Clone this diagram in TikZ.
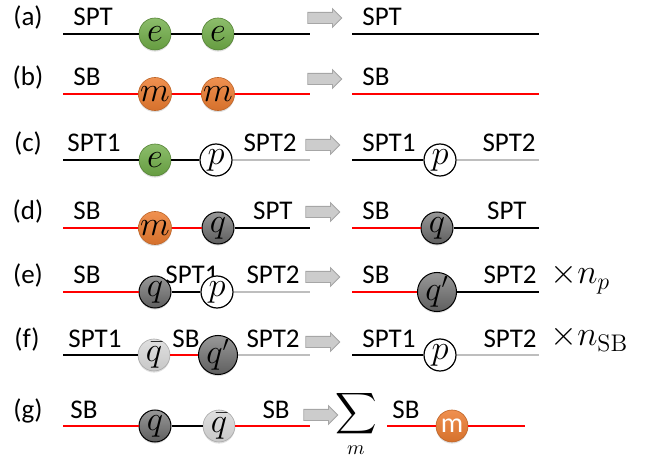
\documentclass[tikz,border=0pt]{standalone}
\usepackage{amsmath}
\usepackage[no-math]{fontspec}
\newfontfamily\calib{Carlito}
\usetikzlibrary{positioning,shapes.arrows,shadows}
\definecolor{ballgreen}{RGB}{112,173,71}
\definecolor{ballorange}{RGB}{237,125,49}
\definecolor{qdark}{RGB}{118,118,118}
\definecolor{qlight}{RGB}{210,210,210}
\definecolor{linegray}{RGB}{190,190,190}
\definecolor{linered}{RGB}{255,0,0}

\begin{document}
\begin{tikzpicture}[x=0.5pt,y=-0.5pt]
	\tikzset{lbl/.style={anchor=base west,inner sep=0pt,font=\calib\fontsize{13.5}{15}\selectfont},
		rlbl/.style={lbl,anchor=base east},
		rowlbl/.style={lbl,anchor=base},
		kline/.style={line width=1.1pt,black},
		rline/.style={line width=1.1pt,linered},
		gline/.style={line width=1.1pt,linegray},
		ball/.style={circle,minimum size=16pt,inner sep=0pt,font=\fontsize{16}{16}\selectfont,
			drop shadow={opacity=0.25,shadow xshift=0pt,shadow yshift=-0.8pt}},
		eball/.style={ball,top color=ballgreen!80!white,bottom color=ballgreen!90!black,draw=ballgreen!75!black,line width=0.3pt},
		mball/.style={ball,top color=ballorange!85!white,bottom color=ballorange!90!black,draw=ballorange!80!black,line width=0.3pt},
		qball/.style={ball,top color=qdark!75!white,bottom color=qdark!80!black,draw=black,line width=0.5pt},
		qbarball/.style={ball,top color=qlight!70!white,bottom color=qlight!95!black,draw=qlight!80!black,line width=0.3pt},
		pball/.style={circle,minimum size=16pt,inner sep=0pt,font=\fontsize{16}{16}\selectfont,fill=white,draw=black,line width=0.6pt},
		garrow/.style={single arrow,draw=black!35,fill=black!20,minimum height=17pt,minimum width=0pt,
			text height=2.6pt,text depth=2.6pt,text width=0pt,
			single arrow head extend=1.9pt,inner sep=0pt,line width=0.4pt},
		times/.style={anchor=base west,inner sep=0pt,font=\fontsize{17}{19}\selectfont},
	}
	\useasboundingbox (0,0) rectangle (660,460);
	% (a)
	\node [rowlbl] (a0) at (28,26) {(a)};
	\node [lbl] (at1) at (73,26) {SPT};
	\node [lbl] (at2) at (362,26) {SPT};
	\coordinate (aL) at (63,34);
	\coordinate (aR) at (310,34);
	\coordinate (aL2) at (352,34);
	\coordinate (aR2) at (539,34);
	\node [eball] (a1) at (155,34) {$e$};
	\node [eball] (a2) at (218,34) {$e$};
	\node [garrow] (aarr) at (322,18) {};
	\draw [kline] (aL) -- (a1) -- (a2) -- (aR);
	\draw [kline] (aL2) -- (aR2);
	% (b)
	\node [rowlbl] (b0) at (28,86) {(b)};
	\node [lbl] (bt1) at (73,86) {SB};
	\node [lbl] (bt2) at (362,86) {SB};
	\coordinate (bL) at (63,94);
	\coordinate (bR) at (310,94);
	\coordinate (bL2) at (352,94);
	\coordinate (bR2) at (539,94);
	\node [mball] (b1) at (155,94) {$m$};
	\node [mball] (b2) at (218,94) {$m$};
	\node [garrow] (barr) at (322,79) {};
	\draw [rline] (bL) -- (b1) -- (b2) -- (bR);
	\draw [rline] (bL2) -- (bR2);
	% (c)
	\node [rowlbl] (c0) at (28,152) {(c)};
	\node [lbl] (ct1) at (67,152) {SPT1};
	\node [rlbl] (ct2) at (297,152) {SPT2};
	\node [lbl] (ct3) at (362,152) {SPT1};
	\node [rlbl] (ct4) at (536,152) {SPT2};
	\coordinate (cL) at (63,160);
	\coordinate (cR) at (310,160);
	\coordinate (cL2) at (352,160);
	\coordinate (cR2) at (539,160);
	\node [eball] (c1) at (155,160) {$e$};
	\node [pball] (c2) at (216,160) {$p$};
	\node [pball] (c3) at (440,160) {$p$};
	\node [garrow] (carr) at (320,145) {};
	\draw [kline] (cL) -- (c1) -- (c2);
	\draw [gline] (c2) -- (cR);
	\draw [kline] (cL2) -- (c3);
	\draw [gline] (c3) -- (cR2);
	% (d)
	\node [rowlbl] (d0) at (28,220) {(d)};
	\node [lbl] (dt1) at (73,220) {SB};
	\node [rlbl] (dt2) at (293,220) {SPT};
	\node [lbl] (dt3) at (362,220) {SB};
	\node [rlbl] (dt4) at (527,220) {SPT};
	\coordinate (dL) at (63,228);
	\coordinate (dR) at (310,228);
	\coordinate (dL2) at (352,228);
	\coordinate (dR2) at (539,228);
	\node [mball] (d1) at (155,228) {$m$};
	\node [qball] (d2) at (218,228) {$q$};
	\node [qball] (d3) at (437,228) {$q$};
	\node [garrow] (darr) at (320,212) {};
	\draw [rline] (dL) -- (d1) -- (d2);
	\draw [kline] (d2) -- (dR);
	\draw [rline] (dL2) -- (d3);
	\draw [kline] (d3) -- (dR2);
	% (e)
	\node [rowlbl] (e0) at (28,284) {(e)};
	\node [lbl] (et1) at (73,284) {SB};
	\node [lbl] (et2) at (165,284) {SPT1};
	\node [rlbl] (et3) at (300,284) {SPT2};
	\node [lbl] (et4) at (362,284) {SB};
	\node [rlbl] (et5) at (537,284) {SPT2};
	\node [times] (et6) at (550,284) {$\times n_p$};
	\coordinate (eL) at (63,292);
	\coordinate (eR) at (310,292);
	\coordinate (eL2) at (352,292);
	\coordinate (eR2) at (539,292);
	\node [qball] (e1) at (155,292) {$q$};
	\node [pball] (e2) at (217,292) {$p$};
	\node [qball] (e3) at (437,292) {$q'$};
	\node [garrow] (earr) at (320,277) {};
	\draw [rline] (eL) -- (e1);
	\draw [kline] (e1) -- (e2);
	\draw [gline] (e2) -- (eR);
	\draw [rline] (eL2) -- (e3);
	\draw [kline] (e3) -- (eR2);
	% (f)
	\node [rowlbl] (f0) at (27,348) {(f)};
	\node [lbl] (ft1) at (68,348) {SPT1};
	\node [lbl] (ft2) at (172,348) {SB};
	\node [rlbl] (ft3) at (300,348) {SPT2};
	\node [lbl] (ft4) at (362,348) {SPT1};
	\node [rlbl] (ft5) at (537,348) {SPT2};
	\node [times] (ft6) at (550,346) {$\times n_{\mathrm{SB}}$};
	\coordinate (fL) at (63,355);
	\coordinate (fR) at (310,355);
	\coordinate (fL2) at (352,355);
	\coordinate (fR2) at (539,355);
	\node [qbarball] (f1) at (154,355) {$\bar q$};
	\node [qball] (f2) at (218,355) {$q'$};
	\node [pball] (f3) at (440,355) {$p$};
	\node [garrow] (farr) at (320,342) {};
	\draw [kline] (fL) -- (f1);
	\draw [rline] (f1) -- (f2);
	\draw [gline] (f2) -- (fR);
	\draw [kline] (fL2) -- (f3);
	\draw [gline] (f3) -- (fR2);
	% (g)
	\node [rowlbl] (g0) at (28,418) {(g)};
	\node [lbl] (gt1) at (70,418) {SB};
	\node [rlbl] (gt2) at (290,418) {SB};
	\node [lbl] (gt3) at (392,418) {SB};
	\node [inner sep=0pt,font=\fontsize{14}{16}\selectfont] (gsum) at (356,424) {$\displaystyle\sum_m$};
	\coordinate (gL) at (63,426);
	\coordinate (gR) at (310,426);
	\coordinate (gL2) at (387,426);
	\coordinate (gR2) at (525,426);
	\node [qball] (g1) at (155,426) {$q$};
	\node [qbarball] (g2) at (219,426) {$\bar q$};
	\node [mball,text=white,font=\calib\fontsize{14}{14}\selectfont] (g3) at (452,426) {m};
	\node [garrow] (garr) at (318,415) {};
	\draw [rline] (gL) -- (g1);
	\draw [kline] (g1) -- (g2);
	\draw [rline] (g2) -- (gR);
	\draw [rline] (gL2) -- (g3) -- (gR2);
\end{tikzpicture}
\end{document}
